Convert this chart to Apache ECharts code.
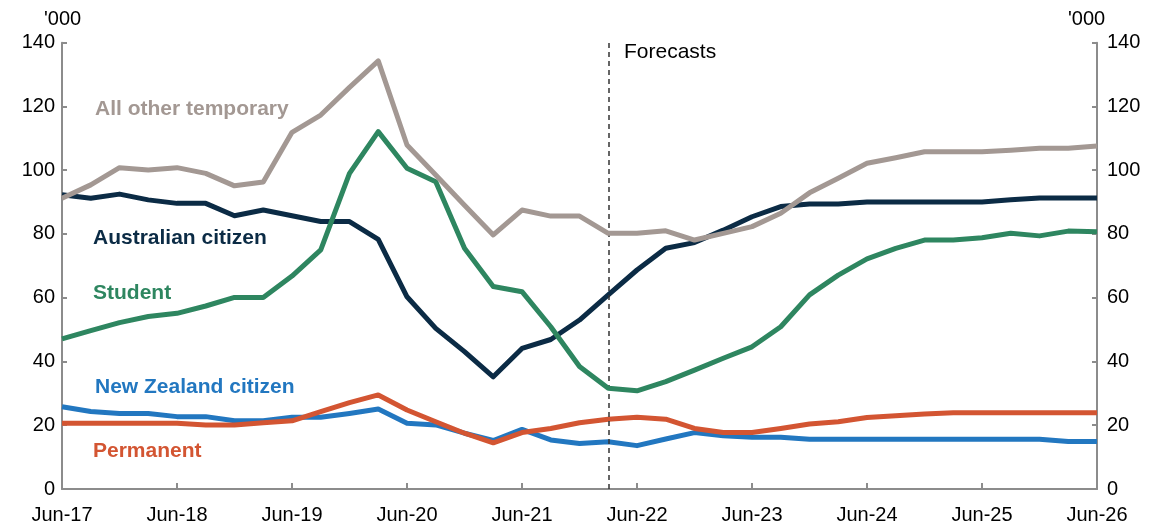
<!DOCTYPE html>
<html>
<head>
<meta charset="utf-8">
<script src="https://cdn.jsdelivr.net/npm/echarts@6/dist/echarts.min.js"></script>
<style>
html,body{margin:0;padding:0;background:#fff;}
#chart{width:1161px;height:528px;}
</style>
</head>
<body>
<div id="chart"></div>
<script>
var categories = [
  'Jun-17','Sep-17','Dec-17','Mar-18',
  'Jun-18','Sep-18','Dec-18','Mar-19',
  'Jun-19','Sep-19','Dec-19','Mar-20',
  'Jun-20','Sep-20','Dec-20','Mar-21',
  'Jun-21','Sep-21','Dec-21','Mar-22',
  'Jun-22','Sep-22','Dec-22','Mar-23',
  'Jun-23','Sep-23','Dec-23','Mar-24',
  'Jun-24','Sep-24','Dec-24','Mar-25',
  'Jun-25','Sep-25','Dec-25','Mar-26',
  'Jun-26'
];
var yTicks = [0, 20, 40, 60, 80, 100, 120, 140];

var allOtherTemporary = [91.2,95.4,100.8,100.1,100.8,99.0,95.1,96.3,111.9,117.3,126.0,134.3,
  107.9,98.5,89.0,79.7,87.5,85.6,85.6,80.2,80.2,81.0,78.1,80.2,82.3,86.5,92.9,97.5,
  102.2,103.9,105.8,105.8,105.8,106.3,106.9,106.9,107.6];
var australianCitizen = [92.3,91.2,92.5,90.7,89.6,89.6,85.7,87.5,85.7,83.9,83.9,78.3,
  60.3,50.4,43.1,35.2,44.1,46.9,53.0,60.9,68.7,75.5,77.3,81.2,85.4,88.6,89.4,89.4,
  90.0,90.0,90.0,90.0,90.0,90.7,91.3,91.3,91.3];
var student = [47.1,49.7,52.2,54.1,55.1,57.4,60.1,60.1,66.8,75.0,99.0,112.1,
  100.6,96.4,75.5,63.5,61.9,50.9,38.4,31.6,30.8,33.7,37.3,41.0,44.6,50.9,60.9,67.1,
  72.2,75.5,78.1,78.1,78.8,80.2,79.4,80.9,80.7];
var newZealandCitizen = [25.8,24.3,23.7,23.7,22.7,22.7,21.4,21.4,22.5,22.5,23.7,25.1,
  20.6,20.1,17.5,15.2,18.7,15.4,14.3,14.8,13.6,15.7,17.7,16.7,16.2,16.2,15.6,15.6,
  15.6,15.6,15.6,15.6,15.6,15.6,15.6,14.9,14.9];
var permanent = [20.6,20.6,20.6,20.6,20.6,20.1,20.1,20.8,21.4,24.3,27.1,29.5,
  24.8,21.1,17.5,14.5,17.7,19.0,20.8,21.9,22.5,21.9,19.0,17.7,17.7,19.0,20.4,21.1,
  22.4,23.0,23.5,23.9,23.9,23.9,23.9,23.9,23.9];
var forecastStart = 'Mar-22';

var C = {
  gray: '#A39893',
  navy: '#0B2B45',
  green: '#2E8660',
  blue: '#2277C0',
  red: '#D35532',
  axis: '#8C8C8C',
  text: '#000'
};
var FONT = 'Liberation Sans, Arial, sans-serif';

function mkSeries(name, data, color, z) {
  return {
    name: name, type: 'line', data: data, symbol: 'none', smooth: false,
    lineStyle: { color: color, width: 5, join: 'round', cap: 'butt' },
    itemStyle: { color: color }, z: z, silent: true, animation: false
  };
}

var chart = echarts.init(document.getElementById('chart'), null, { renderer: 'canvas' });

var yAxisCommon = {
  type: 'value', min: 0, max: 140, interval: 20,
  axisLine: { show: true, lineStyle: { color: C.axis, width: 2 } },
  axisTick: { show: true, inside: true, length: 5, lineStyle: { color: C.axis, width: 2 } },
  splitLine: { show: false },
  axisLabel: { color: C.text, fontSize: 20, fontFamily: FONT,
    formatter: function (v) { return yTicks.indexOf(v) >= 0 ? String(v) : ''; } }
};

var seriesLabels = [
  { text: 'All other temporary', x: 95, y: 109, color: C.gray },
  { text: 'Australian citizen', x: 93, y: 238, color: C.navy },
  { text: 'Student', x: 93, y: 293, color: C.green },
  { text: 'New Zealand citizen', x: 95, y: 387, color: C.blue },
  { text: 'Permanent', x: 93, y: 451, color: C.red }
];

var option = {
  backgroundColor: '#fff',
  animation: false,
  grid: { left: 62, right: 64, top: 42.7, bottom: 39, containLabel: false },
  xAxis: {
    type: 'category', data: categories, boundaryGap: false,
    axisLine: { show: true, lineStyle: { color: C.axis, width: 2 } },
    axisTick: { show: true, inside: true, length: 6, interval: 3, lineStyle: { color: C.axis, width: 2 } },
    axisLabel: { interval: 3, color: C.text, fontSize: 20, fontFamily: FONT, margin: 16 },
    splitLine: { show: false }
  },
  yAxis: [
    Object.assign({}, yAxisCommon, { position: 'left',
      axisLabel: Object.assign({}, yAxisCommon.axisLabel, { margin: 7 }) }),
    Object.assign({}, yAxisCommon, { position: 'right',
      axisLabel: Object.assign({}, yAxisCommon.axisLabel, { margin: 10 }) })
  ],
  series: [
    mkSeries('New Zealand citizen', newZealandCitizen, C.blue, 2),
    mkSeries('Permanent', permanent, C.red, 3),
    mkSeries('Australian citizen', australianCitizen, C.navy, 4),
    mkSeries('Student', student, C.green, 5),
    Object.assign(mkSeries('All other temporary', allOtherTemporary, C.gray, 6), {
      markLine: {
        silent: true, symbol: 'none', animation: false,
        lineStyle: { color: '#333', width: 1.5, type: [5, 4] },
        label: { show: false },
        data: [{ xAxis: forecastStart }]
      }
    })
  ],
  graphic: [
    { type: 'text', left: 44, top: 9, style: { text: "'000", fontSize: 20, fontFamily: FONT, fill: C.text } },
    { type: 'text', left: 1068, top: 9, style: { text: "'000", fontSize: 20, fontFamily: FONT, fill: C.text } },
    { type: 'text', left: 624, top: 42, style: { text: 'Forecasts', fontSize: 21, fontFamily: FONT, fill: C.text } }
  ].concat(seriesLabels.map(function (l) {
    return { type: 'text', x: l.x, y: l.y, style: { text: l.text, fontSize: 21, fontWeight: 'bold',
      fontFamily: FONT, fill: l.color, verticalAlign: 'middle' } };
  }))
};
chart.setOption(option);
</script>
</body>
</html>
